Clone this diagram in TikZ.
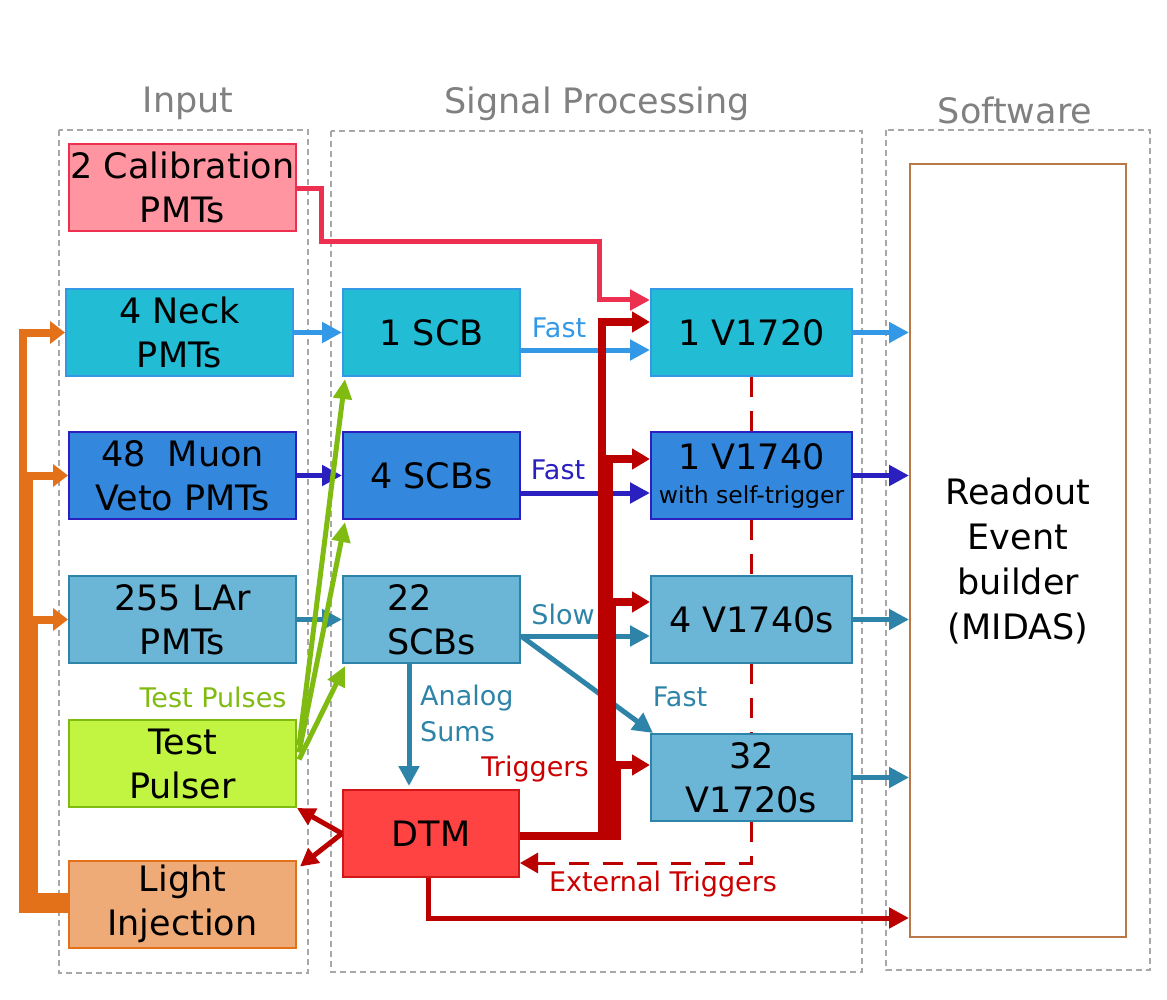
\documentclass[tikz,border=0pt]{standalone}
\usepackage{fontspec}
\setmainfont{DejaVu Sans}
\usetikzlibrary{arrows.meta,calc}
\definecolor{panelGray}{HTML}{A8A8A8}
\definecolor{titleGray}{HTML}{808080}
\definecolor{calFill}{HTML}{FF95A0}
\definecolor{calLine}{HTML}{EE3050}
\definecolor{neckFill}{HTML}{22BCD5}
\definecolor{neckLine}{HTML}{3399E6}
\definecolor{muonFill}{HTML}{3388DD}
\definecolor{muonLine}{HTML}{2A1FBF}
\definecolor{larFill}{HTML}{6BB5D6}
\definecolor{larLine}{HTML}{2E84A8}
\definecolor{pulseFill}{HTML}{C2F542}
\definecolor{pulseLine}{HTML}{7FBB10}
\definecolor{injFill}{HTML}{EEAA77}
\definecolor{injLine}{HTML}{E3711A}
\definecolor{dtmFill}{HTML}{FF4242}
\definecolor{dtmLine}{HTML}{D01818}
\definecolor{trigRed}{HTML}{BB0000}
\definecolor{trigText}{HTML}{CC0000}
\definecolor{midasLine}{HTML}{B87848}

\begin{document}
\begin{tikzpicture}[x=1pt, y=-1pt,
  every node/.style={font=\fontsize{35}{44}\selectfont, align=center, inner sep=0pt},
  box/.style={draw, line width=2pt, minimum height=87pt},
  inbox/.style={box, minimum width=227pt},
  scbbox/.style={box, minimum width=177pt},
  digbox/.style={box, minimum width=201pt},
  panel/.style={draw=panelGray, line width=1.2pt, dash pattern=on 6pt off 4pt},
  title/.style={text=titleGray},
  lbl/.style={font=\fontsize{27}{36}\selectfont},
  sig/.style={-{Triangle[length=20pt,width=20pt]}, line width=5pt},
  trig/.style={-{Triangle[length=18pt,width=20pt]}, line width=8pt, trigRed},
  inj/.style={-{Triangle[length=15pt,width=22pt]}, line width=7pt, injLine},
  pulse/.style={-{Triangle[length=20pt,width=18pt]}, line width=5pt, pulseLine},
  ext/.style={line width=3pt, trigRed, dash pattern=on 20pt off 14pt},
]
\useasboundingbox (0,0) rectangle (1167,1000);

% panels
\draw[panel] (59,130) rectangle (308,973);
\draw[panel] (331,131) rectangle (862,972);
\draw[panel] (886,130) rectangle (1150,970);
\node[title] (tIn) at (188,103) {Input};
\node[title] (tSig) at (597,104) {Signal Processing};
\node[title] (tSw) at (1015,110) {Software};

% input
\node[inbox, fill=calFill, draw=calLine] (cal) at (182.5,187.5) {2 Calibration\\PMTs};
\node[inbox, fill=neckFill, draw=neckLine] (neck) at (179.5,332.5) {4 Neck\\PMTs};
\node[inbox, fill=muonFill, draw=muonLine] (muon) at (182.5,475.5) {48\ \ Muon\\Veto PMTs};
\node[inbox, fill=larFill, draw=larLine] (lar) at (182.5,619.5) {255 LAr\\PMTs};
\node[inbox, fill=pulseFill, draw=pulseLine] (pulser) at (182.5,763.5) {Test\\Pulser};
\node[inbox, fill=injFill, draw=injLine] (light) at (182.5,904) {Light\\Injection};

% signal processing
\node[scbbox, fill=neckFill, draw=neckLine] (scb1) at (431.5,332.5) {1 SCB};
\node[scbbox, fill=muonFill, draw=muonLine] (scb4) at (431.5,475.5) {4 SCBs};
\node[scbbox, fill=larFill, draw=larLine, align=left] (scb22) at (431.5,619.5) {22\\SCBs};
\node[scbbox, minimum width=176pt, fill=dtmFill, draw=dtmLine] (dtm) at (431,833.5) {DTM};
\node[digbox, fill=neckFill, draw=neckLine] (va) at (751.5,332.5) {1 V1720};
\node[digbox, fill=muonFill, draw=muonLine] (vb) at (751.5,475.5) {1 V1740\\[-10pt]{\fontsize{23.5}{28}\selectfont with self-trigger}};
\node[digbox, fill=larFill, draw=larLine] (vc) at (751.5,619.5) {4 V1740s};
\node[digbox, fill=larFill, draw=larLine] (vd) at (751.5,777.5) {32\\V1720s};

% software
\node[draw=midasLine, line width=2pt, minimum width=216pt, minimum height=773pt,
  text height=183pt, font=\fontsize{35}{45}\selectfont] (midas) at (1018,550.5) {Readout\\Event\\builder\\(MIDAS)};

% external triggers (dashed)
\coordinate (ext) at (0,863);
\draw[ext] (va.south) -- (vb.north) (vb.south) -- (vc.north) (vc.south) -- (vd.north);
\draw[ext, -{Triangle[length=18pt,width=20pt]}] (vd.south) -- (vd.south |- ext) -- (dtm.east |- ext);

% signals
\draw[sig, neckLine] (neck) -- (scb1);
\draw[sig, muonLine] (muon) -- (scb4);
\draw[sig, larLine] (lar) -- (scb22);
\draw[sig, neckLine] ($(scb1.east)+(0,17.5)$) -- ($(va.west)+(0,17.5)$);
\draw[sig, muonLine] ($(scb4.east)+(0,17.5)$) -- ($(vb.west)+(0,17.5)$);
\draw[sig, larLine] ($(scb22.east)+(0,16.5)$) -- ($(vc.west)+(0,16.5)$);
\draw[sig, larLine] ($(scb22.east)+(0,16.5)$) -- ($(vd.north west)+(3,0)$);
\draw[sig, larLine] ($(scb22.south)+(-22.5,0)$) -- ($(dtm.north)+(-22,-3)$);
\draw[sig, neckLine] (va) -- (va -| midas.west);
\draw[sig, muonLine] (vb) -- (vb -| midas.west);
\foreach \t in {vc,vd}\draw[sig, larLine] (\t) -- (\t -| midas.west);
\draw[sig, calLine] ($(cal.east)+(0,1.5)$) -- ++(24,0) -- ++(0,53) -- ++(278,0) |- ($(va.west)+(0,-32.5)$);

% test pulses
\foreach \t/\dy in {scb1/-18, scb4/-11, scb22/-4}
  \draw[pulse] ($(pulser.east)+(2,\dy)$) -- ($(\t.south west)+(3,2)$);

% light injection
\foreach \t/\x/\dy in {neck/23.5/5, muon/29.5/-1, lar/35/-7}
  \draw[inj, line width=8pt] ($(light.west)+(0,\dy)$) -- ++(\x-69,0) |- (\t.west);

% triggers
\foreach \t/\x/\dy in {va/601/-10.5, vb/608/-16.5, vc/611/-17.5, vd/616/-12.5}
  \draw[trig] ($(dtm.east)+(0,2)$) -- ++(\x-519,0) |- ($(\t.west)+(0,\dy)$);
\draw[sig, trigRed, -{Triangle[length=18pt,width=18pt]}] (dtm.west) -- (pulser.south east);
\draw[sig, trigRed, -{Triangle[length=18pt,width=18pt]}] (dtm.west) -- ($(light.north east)+(3,7)$);
\draw[sig, trigRed] ($(dtm.south)+(-3,0)$) |- ($(midas.south west)+(0,-20)$);

% labels
\node[lbl, text=neckLine] (lFast1) at (559,328) {Fast};
\node[lbl, text=muonLine] (lFast2) at (558,470) {Fast};
\node[lbl, text=larLine] (lSlow) at (563,614) {Slow};
\node[lbl, text=larLine] (lFast3) at (680,697) {Fast};
\node[lbl, text=larLine, align=left, anchor=west] (lSums) at (420,713) {Analog\\Sums};
\node[lbl, text=trigText] (lTrig) at (535,769) {Triggers};
\node[lbl, text=trigText] (lExt) at (663,884) {External Triggers};
\node[lbl, text=pulseLine] (lPulse) at (213,697) {Test Pulses};
\end{tikzpicture}
\end{document}
